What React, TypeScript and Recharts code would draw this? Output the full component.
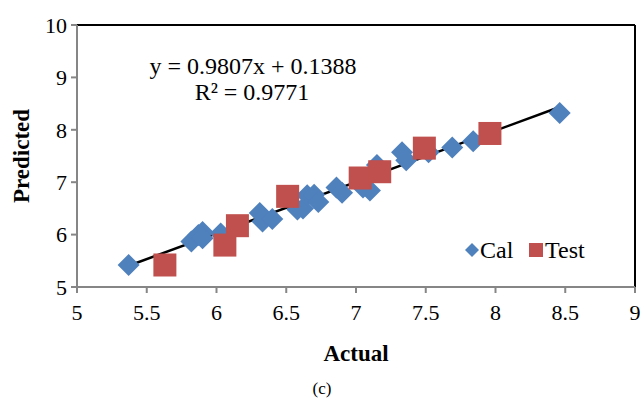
import React from 'react';
import {
  ScatterChart,
  Scatter,
  XAxis,
  YAxis,
  ReferenceLine,
  Customized,
} from 'recharts';

const calPoints = [
  { x: 5.37, y: 5.42 }, { x: 5.82, y: 5.87 }, { x: 5.87, y: 5.99 }, { x: 5.9, y: 6.05 },
  { x: 5.9, y: 5.93 }, { x: 6.03, y: 6.02 }, { x: 6.31, y: 6.41 }, { x: 6.33, y: 6.25 },
  { x: 6.4, y: 6.3 }, { x: 6.58, y: 6.48 }, { x: 6.62, y: 6.5 }, { x: 6.65, y: 6.75 },
  { x: 6.7, y: 6.76 }, { x: 6.73, y: 6.62 }, { x: 6.86, y: 6.9 }, { x: 6.9, y: 6.8 },
  { x: 7.05, y: 6.9 }, { x: 7.1, y: 6.84 }, { x: 7.15, y: 7.33 }, { x: 7.33, y: 7.57 },
  { x: 7.36, y: 7.42 }, { x: 7.52, y: 7.57 }, { x: 7.69, y: 7.66 }, { x: 7.84, y: 7.78 },
  { x: 8.46, y: 8.32 },
];

const testPoints = [
  { x: 5.63, y: 5.42 }, { x: 6.06, y: 5.8 }, { x: 6.15, y: 6.17 }, { x: 6.51, y: 6.73 },
  { x: 7.03, y: 7.08 }, { x: 7.17, y: 7.2 }, { x: 7.49, y: 7.65 }, { x: 7.96, y: 7.93 },
];

const xTicks = [5, 5.5, 6, 6.5, 7, 7.5, 8, 8.5, 9];
const yTicks = [5, 6, 7, 8, 9, 10];

const slope = 0.9807;
const intercept = 0.1388;
const fitRange = [5.37, 8.46];

const BLUE = '#4F81BD';
const RED = '#C0504D';
const AXIS = '#868686';
const FONT = '"Liberation Serif", "Times New Roman", serif';

const Diamond = (props: any) => {
  const { cx, cy } = props;
  const r = 11;
  return (
    <polygon
      points={`${cx},${cy - r} ${cx + r},${cy} ${cx},${cy + r} ${cx - r},${cy}`}
      fill={BLUE}
    />
  );
};

const Square = (props: any) => {
  const { cx, cy } = props;
  const s = 23;
  return <rect x={cx - s / 2} y={cy - s / 2} width={s} height={s} fill={RED} />;
};

const Annotations = () => (
  <g style={{ fontFamily: FONT }} fill="#000">
    <text x={253} y={74} fontSize={24} textAnchor="middle" style={{ fontFamily: FONT }}>
      y = 0.9807x + 0.1388
    </text>
    <text x={252} y={100} fontSize={24} textAnchor="middle" style={{ fontFamily: FONT }}>
      R² = 0.9771
    </text>
    <polygon points="472,243 479,250 472,257 465,250" fill={BLUE} />
    <text x={480} y={258} fontSize={24} style={{ fontFamily: FONT }}>Cal</text>
    <rect x={529} y={243} width={14} height={14} fill={RED} />
    <text x={545} y={258} fontSize={24} style={{ fontFamily: FONT }}>Test</text>
    <text
      x={29}
      y={156}
      fontSize={23}
      fontWeight="bold"
      textAnchor="middle"
      transform="rotate(-90 29 156)"
      style={{ fontFamily: FONT }}
    >
      Predicted
    </text>
    <text x={356} y={361} fontSize={23} fontWeight="bold" textAnchor="middle" style={{ fontFamily: FONT }}>
      Actual
    </text>
    <text x={322} y={394} fontSize={17} textAnchor="middle" style={{ fontFamily: FONT }}>
      (c)
    </text>
  </g>
);

const tickStyle = { fill: '#000', fontSize: 22, fontFamily: FONT, style: { fontFamily: FONT } };

export default function App() {
  return (
    <div style={{ position: 'absolute', left: 0, top: 0, background: '#fff', fontFamily: FONT }}>
      <ScatterChart
        width={642}
        height={399}
        margin={{ top: 25, right: 7, bottom: 82, left: 37 }}
        style={{ fontFamily: FONT }}
      >
        <XAxis
          type="number"
          dataKey="x"
          domain={[5, 9]}
          ticks={xTicks}
          interval={0}
          stroke={AXIS}
          strokeWidth={2}
          tickSize={6}
          height={30}
          tick={{ ...tickStyle, dy: 9 }}
        />
        <YAxis
          type="number"
          dataKey="y"
          domain={[5, 10]}
          ticks={yTicks}
          interval={0}
          stroke={AXIS}
          strokeWidth={2}
          tickSize={6}
          width={40}
          tick={{ ...tickStyle, dx: -2 }}
        />
        <ReferenceLine y={10} stroke="#000" strokeWidth={2} />
        <ReferenceLine x={9} stroke="#000" strokeWidth={2} />
        <Scatter name="Cal" data={calPoints} shape={Diamond} isAnimationActive={false} />
        <Scatter name="Test" data={testPoints} shape={Square} isAnimationActive={false} />
        <ReferenceLine
          segment={[
            { x: fitRange[0], y: slope * fitRange[0] + intercept },
            { x: fitRange[1], y: slope * fitRange[1] + intercept },
          ]}
          stroke="#000"
          strokeWidth={2.5}
        />
        <Customized component={Annotations} />
      </ScatterChart>
    </div>
  );
}
